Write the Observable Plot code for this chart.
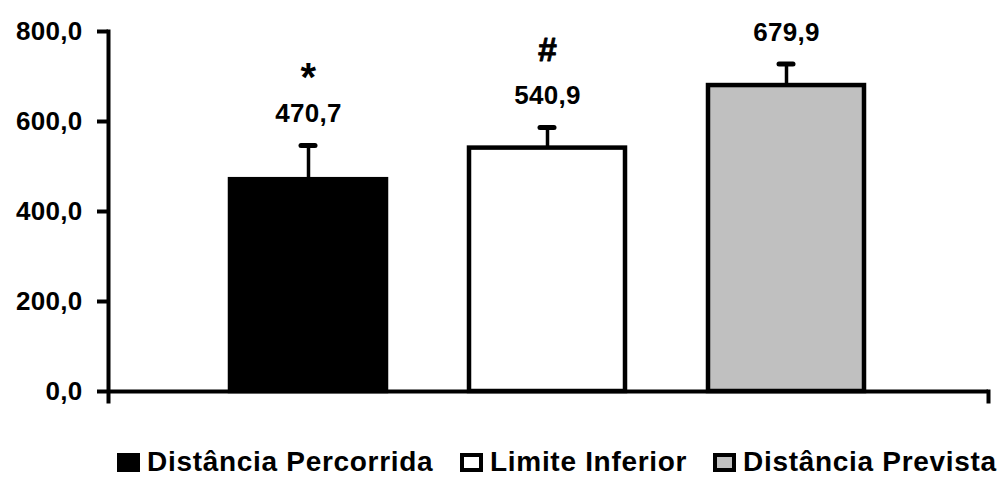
<!DOCTYPE html>
<html><head><meta charset="utf-8">
<script src="https://cdn.jsdelivr.net/npm/d3@7"></script>
<script src="https://cdn.jsdelivr.net/npm/@observablehq/plot@0.6"></script>
<style>
html,body{margin:0;padding:0;background:#fff;}
body{width:1002px;height:478px;overflow:hidden;font-family:"Liberation Sans",Arial,sans-serif;}
#chart svg text{font-weight:bold;letter-spacing:0.3px;}
#legend{position:relative;height:58px;}
.item{position:absolute;top:28px;height:28px;line-height:28px;display:flex;align-items:center;font-weight:bold;font-size:28px;letter-spacing:0.7px;color:#000;white-space:nowrap;}
.sw{width:23px;height:19px;box-sizing:border-box;margin-right:7px;border:4px solid #000;}
</style></head><body>
<div id="chart"></div>
<div id="legend"></div>
<script>
const categories = ["Distância Percorrida", "Limite Inferior", "Distância Prevista"];
const means = [470.7, 540.9, 679.9];
const sds = [76, 46, 48];
const valueLabels = ["470,7", "540,9", "679,9"];
const symbols = ["*", "#", ""];
const fills = ["#000000", "#ffffff", "#c0c0c0"];
const yTicks = [0, 200, 400, 600, 800];
const yTickLabels = ["0,0", "200,0", "400,0", "600,0", "800,0"];
const legendLeft = [117, 460, 713];

const rows = categories.map((c, i) => ({cat: c, mean: means[i], top: means[i] + sds[i], label: valueLabels[i], sym: symbols[i]}));

const plot = Plot.plot({
  width: 1002, height: 420,
  marginLeft: 108, marginRight: 14, marginTop: 31, marginBottom: 29,
  style: {fontFamily: "'Liberation Sans', Arial, sans-serif", background: "#fff", overflow: "visible", color: "#000"},
  x: {domain: categories, range: [147, 948], padding: 0.3465, align: 0.5, axis: null},
  y: {domain: [0, 800], axis: null},
  color: {domain: categories, range: fills},
  marks: [
    Plot.barY(rows, {x: "cat", y: "mean", fill: "cat", stroke: "#000", strokeWidth: 4.5}),
    Plot.ruleX(rows, {x: "cat", y1: "mean", y2: "top", stroke: "#000", strokeWidth: 3.5}),
    Plot.tickY(rows, {x: "cat", y: "top", stroke: "#000", strokeWidth: 5, strokeLinecap: "round", insetLeft: 71, insetRight: 71}),
    Plot.text(rows, {x: "cat", y: "top", text: "label", dy: -23, lineAnchor: "bottom", fontSize: 26, fontWeight: "bold", fill: "#000"}),
    Plot.text(rows.filter(d => d.sym === "*"), {x: "cat", y: "top", text: "sym", dy: -54, lineAnchor: "bottom", fontSize: 40, fontWeight: "bold", fill: "#000"}),
    Plot.text(rows.filter(d => d.sym === "#"), {x: "cat", y: "top", text: "sym", dy: -66, lineAnchor: "bottom", fontSize: 34, fontWeight: "bold", fill: "#000", stroke: "#000", strokeWidth: 0.8}),
    Plot.ruleY([0], {stroke: "#000", strokeWidth: 4}),
    Plot.frame({anchor: "left", stroke: "#000", strokeWidth: 4, insetBottom: -10}),
    Plot.frame({anchor: "right", stroke: "#000", strokeWidth: 4, insetTop: 360, insetBottom: -10}),
    Plot.axisY({ticks: yTicks, tickFormat: d => yTickLabels[yTicks.indexOf(d)], tickSize: 11, tickPadding: 15, strokeWidth: 4, fontSize: 26, fontWeight: "bold", label: null})
  ]
});
document.getElementById("chart").appendChild(plot);

const legend = document.getElementById("legend");
categories.forEach((c, i) => {
  const item = document.createElement("div");
  item.className = "item";
  item.style.left = legendLeft[i] + "px";
  const sw = document.createElement("span");
  sw.className = "sw";
  sw.style.background = fills[i];
  const t = document.createElement("span");
  t.textContent = c;
  item.appendChild(sw);
  item.appendChild(t);
  legend.appendChild(item);
});
</script>
</body></html>
